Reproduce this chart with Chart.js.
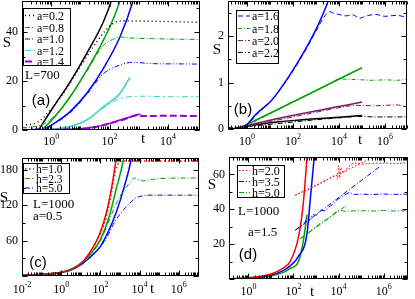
<!DOCTYPE html>
<html>
<head>
<meta charset="utf-8">
<script src="https://cdn.jsdelivr.net/npm/chart.js@4.4.1/dist/chart.umd.min.js"></script>
<style>
  body { margin: 0; background: #fff; }
  canvas { position: absolute; left: 0; top: 0; }
</style>
</head>
<body>
<canvas id="pa" width="415" height="299"></canvas>
<canvas id="pb" width="415" height="299"></canvas>
<canvas id="pc" width="415" height="299"></canvas>
<canvas id="pd" width="415" height="299"></canvas>
<script>
// every series is a list of [log10(t), S] pairs

// panel (a), L=700
const aFit02 = [[-0.43, 0], [0.08, 9.5], [0.65, 19.7], [1.22, 31.3], [1.79, 44.2], [2.07, 53], [2.12, 55]];
const aFit08 = [[-0.32, 0], [0.08, 4.8], [0.65, 13.6], [1.22, 24.5], [1.79, 36.7], [2.36, 53], [2.4, 55]];
const aFit10 = [[-0.26, 0], [0.08, 2.5], [0.65, 7.5], [1.22, 15], [1.79, 25.2], [2.36, 38.1], [2.81, 53], [2.85, 55]];
const aFit12 = [[-0.15, 0], [0.65, 1.4], [1.22, 4.1], [1.79, 9.5], [2.36, 15], [2.7, 21.5]];
const aFit14 = [[-0.15, 0], [1.22, 0.7], [1.79, 2], [2.36, 4.1], [3.04, 6.5]];
const aSim02 = [[-1, 2], [-0.5, 3], [0, 8.5], [0.5, 16.5], [1, 26], [1.5, 35], [1.85, 40.5], [2.1, 43.3], [2.3, 44.5], [2.6, 44.6], [3, 44.5], [4, 44.3], [5.1, 44]];
const aSim08 = [[-1, 1], [-0.5, 1.5], [0, 4.5], [0.65, 13.5], [1.22, 24], [1.79, 34.5], [2.1, 37], [2.4, 38], [2.7, 37.6], [3.5, 37.3], [4.3, 37.1], [5.1, 37]];
const aSim10 = [[-1, 0.3], [-0.3, 0.5], [0.08, 2.5], [0.65, 7], [1.22, 14.5], [1.79, 23], [2.2, 25.8], [2.55, 27.3], [2.85, 27.6], [3.5, 27.1], [4.5, 27], [5.1, 26.9]];
const aSim12 = [[-1, 0.1], [0, 0.4], [0.65, 1.4], [1.22, 4], [1.79, 9], [2.3, 12.6], [2.7, 13.6], [3.2, 13.8], [4, 13.6], [5.1, 13.6]];
const aSim14 = [[-1, 0], [0.5, 0.3], [1.22, 0.7], [1.79, 2], [2.4, 4], [3.04, 6.2], [3.1, 5.7], [4, 5.8], [5.1, 5.7]];
const aLabels = ["a=0.2", "a=0.8", "a=1.0", "a=1.2", "a=1.4"];
const aYTicks = [0, 20, 40];
const aXTicks = [0, 2, 4];

// panel (b)
const bFit16 = [[-0.83, 0], [-0.3, 0.02], [0.06, 0.13], [0.35, 0.3], [1.07, 0.62], [1.8, 1.12], [2.52, 1.7], [3.1, 2.25], [3.55, 2.78], [3.6, 2.85]];
const bFit18 = [[-0.3, 0.03], [0, 0.1], [5, 1.32]];
const bFit20 = [[-0.3, 0.02], [0, 0.07], [5, 0.58]];
const bFit22 = [[-0.3, 0.02], [0, 0.06], [5, 0.29]];
const bSim16 = [[-0.83, 0.03], [-0.3, 0.04], [0, 0.1], [0.5, 0.35], [1.07, 0.62], [1.8, 1.1], [2.52, 1.68], [3.1, 2.2], [3.4, 2.45], [3.6, 2.53], [3.75, 2.5], [4, 2.47], [4.3, 2.44], [4.6, 2.46], [4.9, 2.39], [5.2, 2.44], [5.6, 2.47], [6, 2.43], [6.5, 2.45], [6.96, 2.41]];
const bSim18 = [[-0.83, 0.02], [-0.3, 0.03], [0, 0.08], [1, 0.33], [2, 0.58], [3, 0.83], [3.7, 1], [4, 1.08], [4.5, 1.07], [5, 1.06], [5.5, 1.05], [6, 1.06], [6.5, 1.05], [6.96, 1.07]];
const bSim20 = [[-0.83, 0.01], [0, 0.06], [1, 0.16], [2, 0.26], [3, 0.36], [4, 0.46], [4.5, 0.5], [5, 0.51], [5.5, 0.5], [6, 0.51], [6.5, 0.52], [6.96, 0.47]];
const bSim22 = [[-0.83, 0.01], [0, 0.05], [1, 0.1], [2, 0.15], [3, 0.2], [4, 0.24], [4.5, 0.26], [5, 0.27], [5.5, 0.26], [6, 0.26], [6.5, 0.26], [6.96, 0.26]];
const bLabels = ["a=1.6", "a=1.8", "a=2.0", "a=2.2"];
const bYTicks = [0, 1, 2];
const bXTicks = [0, 2, 4, 6];

// panel (c), L=1000, a=0.5
const cFit10 = [[-2, 1.5], [-1, 2.5], [0, 6.5], [0.5, 11], [1.12, 25], [1.5, 42], [1.97, 72], [2.31, 108], [2.56, 148], [2.81, 200], [2.85, 210]];
const cFit23 = [[-2, 1.5], [-1, 2.5], [0, 6.5], [0.5, 11], [1.12, 24], [1.5, 38], [1.97, 60], [2.47, 103], [2.81, 148], [3.19, 200], [3.23, 210]];
const cFit50 = [[-2, 1.5], [-1, 2.5], [0, 6], [0.5, 10], [1.12, 22], [1.5, 33], [1.97, 49], [2.4, 75], [2.81, 108], [3.24, 154], [3.58, 200], [3.62, 210]];
const cSim10 = [[-2, 2], [-1, 2.5], [0, 6.5], [1.12, 25], [1.97, 70], [2.3, 100], [2.56, 140], [2.75, 175], [2.95, 192], [3.2, 195], [4, 195], [5, 195], [6, 195], [7.03, 195]];
const cSim23 = [[-2, 2], [0, 6.5], [1.12, 24], [1.97, 58], [2.4, 90], [2.7, 115], [3, 135], [3.3, 150], [3.55, 160], [3.75, 166], [3.9, 164], [4.17, 161], [4.5, 163], [5, 165], [6, 166], [7.03, 166]];
const cSim50 = [[-2, 1.5], [0, 6], [1.12, 22], [1.97, 48], [2.4, 70], [2.7, 90], [3, 105], [3.4, 120], [3.8, 132], [4.2, 136], [4.5, 137], [5, 137], [6, 137], [7.03, 137]];
const cLabels = ["h=1.0", "h=2.3", "h=5.0"];
const cYTicks = [60, 120, 180];
const cXTicks = [-2, 0, 2, 4, 6];

// panel (d), L=1000, a=1.5
const dFit20 = [[-0.86, 0], [0, 0.8], [0.5, 1.5], [1.04, 3], [1.5, 6], [1.85, 10], [2.22, 24], [2.44, 44], [2.6, 70], [2.63, 75]];
const dFit35 = [[-0.86, 0], [0, 0.6], [0.5, 1.2], [1.04, 2.3], [1.5, 4.5], [1.85, 7.5], [2.22, 13], [2.6, 26], [2.74, 45], [2.92, 70], [2.95, 75]];
const dFit50 = [[-0.86, 0], [0, 0.5], [0.5, 1], [1.04, 2], [1.5, 3.5], [1.85, 6], [2.22, 10], [2.44, 22], [2.6, 37]];
const dLine20 = [[2.08, 48], [5.56, 70]];
const dLine35 = [[2.08, 28], [5.83, 64.5]];
const dLine50 = [[2.3, 23], [4.37, 42.4]];
const dSim20 = [[2.08, 48], [2.3, 49.5], [2.6, 51], [3, 53.5], [3.5, 57], [3.9, 59.5], [3.95, 57], [4, 65], [4.05, 58], [4.1, 64], [4.2, 61], [4.45, 64.5], [4.7, 66.5], [5, 66], [5.5, 66.3], [6, 66.5], [6.5, 66.2], [7.08, 66.8]];
const dSim35 = [[2.08, 28], [2.3, 30], [2.5, 32], [2.6, 35.5], [2.7, 33.5], [2.85, 37], [3, 36.5], [3.2, 39.5], [3.4, 39], [3.5, 40.5], [3.8, 43.5], [4, 46], [4.3, 48.5], [4.5, 49.5], [4.7, 48.5], [5, 48.7], [5.5, 48.5], [6, 48.7], [6.5, 48.6], [7.08, 48.7]];
const dSim50 = [[2.3, 23.3], [2.5, 25], [2.7, 27], [2.9, 29], [3.1, 31], [3.3, 33], [3.5, 34.5], [3.7, 36.5], [3.9, 38.5], [4.07, 39.5], [4.3, 38.8], [4.5, 39], [5, 39.2], [5.5, 39], [6, 39.3], [6.5, 39], [7.08, 39.2]];
const dLabels = ["h=2.0", "h=3.5", "h=5.0"];
const dYTicks = [20, 40, 60];
const dXTicks = [0, 2, 4, 6];

const SERIF = '"Liberation Serif", "DejaVu Serif", serif';
const SANS = '"Liberation Sans", "DejaVu Sans", sans-serif';

const BLACK = "#000000", GREEN = "#00a000", BLUE = "#0000ff", CYAN = "#30d5c8",
      VIOLET = "#9400d3", MAROON = "#7d1a5e", RED = "#ff0000";

// frame, inward ticks, tick labels, legend box and texts
const decor = {
  id: "decor",
  afterDatasetsDraw(chart, args, o) {
    const { ctx, chartArea: a } = chart;
    const xs = chart.scales.x, ys = chart.scales.y;
    const L = Math.round(a.left) + 0.5, R = Math.round(a.right) - 0.5;
    const T = Math.round(a.top) + 0.5, B = Math.round(a.bottom) - 0.5;
    ctx.save();
    ctx.strokeStyle = "#000";
    ctx.lineWidth = 1;
    ctx.beginPath();
    for (let n = Math.floor(o.xRange[0]); n <= Math.ceil(o.xRange[1]); n++) {
      for (let k = 1; k <= 9; k++) {
        const v = k * Math.pow(10, n);
        if (v < xs.min || v > xs.max) continue;
        const p = Math.round(xs.getPixelForValue(v)) + 0.5;
        const len = (k === 1 && n % 2 === 0) ? 5 : 3;
        ctx.moveTo(p, B); ctx.lineTo(p, B - len);
        ctx.moveTo(p, T); ctx.lineTo(p, T + len);
      }
    }
    for (let i = 0; i * o.yMinor <= ys.max + 1e-9; i++) {
      const p = Math.round(ys.getPixelForValue(i * o.yMinor)) + 0.5;
      const len = i % 2 === 0 ? 5 : 3;
      ctx.moveTo(L, p); ctx.lineTo(L + len, p);
      ctx.moveTo(R, p); ctx.lineTo(R - len, p);
    }
    ctx.stroke();
    ctx.strokeRect(L, T, R - L, B - T);

    ctx.fillStyle = "#000";
    ctx.font = "12px " + SERIF;
    ctx.textAlign = "right";
    ctx.textBaseline = "middle";
    o.yLabels.forEach(v => ctx.fillText(String(v), a.left - 4, ys.getPixelForValue(v)));

    ctx.textAlign = "left";
    ctx.textBaseline = "alphabetic";
    o.xLabels.forEach(n => {
      const p = xs.getPixelForValue(Math.pow(10, n));
      const e = n < 0 ? "-" + (-n) : String(n);
      ctx.font = "12px " + SERIF;
      const w1 = ctx.measureText("10").width;
      ctx.font = "8px " + SERIF;
      const w2 = ctx.measureText(e).width;
      const x0 = p - (w1 + w2) / 2;
      ctx.font = "12px " + SERIF;
      ctx.fillText("10", x0, a.bottom + o.xLabelDy);
      ctx.font = "8px " + SERIF;
      ctx.fillText(e, x0 + w1, a.bottom + o.xLabelDy - 6);
    });

    const lg = o.legend;
    ctx.strokeRect(lg.box[0] + 0.5, lg.box[1] + 0.5, lg.box[2] - lg.box[0], lg.box[3] - lg.box[1]);
    chart.data.datasets.filter(d => d.label).forEach((d, i) => {
      const y = lg.rows[i] + 0.5;
      ctx.save();
      ctx.strokeStyle = d.borderColor;
      ctx.lineWidth = d.borderWidth;
      ctx.setLineDash(d.borderDash || []);
      ctx.beginPath();
      ctx.moveTo(lg.line[0], y);
      ctx.lineTo(lg.line[1], y);
      ctx.stroke();
      ctx.restore();
      ctx.font = lg.size + "px " + SERIF;
      ctx.textBaseline = "middle";
      ctx.textAlign = "left";
      ctx.fillText(d.label, lg.text, y + 1);
    });

    o.texts.forEach(t => {
      ctx.font = t.font;
      ctx.textAlign = t.align || "center";
      ctx.textBaseline = "middle";
      ctx.fillText(t.s, t.x, t.y);
    });
    ctx.restore();
  }
};

function series(pairs, color, width, dash, label) {
  return {
    label: label,
    data: pairs.map(([l, s]) => ({ x: Math.pow(10, l), y: s })),
    borderColor: color,
    borderWidth: width,
    borderDash: dash,
    pointRadius: 0,
    fill: false,
    cubicInterpolationMode: "monotone"
  };
}

function makePanel(id, p) {
  const [left, top, right, bottom] = p.area;
  new Chart(document.getElementById(id), {
    type: "line",
    data: { datasets: p.datasets },
    options: {
      responsive: false,
      animation: false,
      events: [],
      layout: { padding: { left: left, top: top, right: 415 - right, bottom: 299 - bottom } },
      scales: {
        x: { type: "logarithmic", display: false, min: Math.pow(10, p.xRange[0]), max: Math.pow(10, p.xRange[1]) },
        y: { type: "linear", display: false, min: p.yRange[0], max: p.yRange[1] }
      },
      plugins: {
        legend: { display: false },
        tooltip: { enabled: false },
        decor: {
          xRange: p.xRange, yMinor: p.yMinor, yLabels: p.yLabels, xLabels: p.xLabels,
          xLabelDy: p.xLabelDy, legend: p.legend, texts: p.texts
        }
      }
    },
    plugins: [decor]
  });
}

makePanel("pa", {
  area: [22, 1, 200, 130], xRange: [-1, 5.1], yRange: [0, 52.7], yMinor: 10,
  yLabels: aYTicks, xLabels: aXTicks, xLabelDy: 15,
  datasets: [
    series(aSim02, BLACK, 1.5, [1, 3], aLabels[0]),
    series(aSim08, GREEN, 1, [5, 2, 1, 2], aLabels[1]),
    series(aSim10, BLUE, 1, [5, 2, 1, 2, 1, 2], aLabels[2]),
    series(aSim12, CYAN, 1, [6, 3, 2, 3], aLabels[3]),
    series(aSim14, VIOLET, 2, [7, 3], aLabels[4]),
    series(aFit02, BLACK, 1.5, []),
    series(aFit08, GREEN, 1.5, []),
    series(aFit10, BLUE, 1.5, []),
    series(aFit12, CYAN, 1.5, []),
    series(aFit14, VIOLET, 1.5, [])
  ],
  legend: { box: [23, 8, 70, 65], rows: [15, 27, 38.5, 50, 61], line: [25, 35], text: 37, size: 12 },
  texts: [
    { s: "S", x: 7, y: 43, font: "15px " + SERIF },
    { s: "t", x: 143, y: 139, font: "15px " + SERIF },
    { s: "(a)", x: 41, y: 101, font: "15px " + SANS },
    { s: "L=700", x: 25, y: 76, font: "13px " + SERIF, align: "left" }
  ]
});

makePanel("pb", {
  area: [228, 1, 407, 129], xRange: [-0.83, 6.96], yRange: [0, 2.76], yMinor: 0.5,
  yLabels: bYTicks, xLabels: bXTicks, xLabelDy: 16,
  datasets: [
    series(bSim16, BLUE, 1, [5, 3], bLabels[0]),
    series(bSim18, GREEN, 1, [4, 2, 1, 2], bLabels[1]),
    series(bSim20, MAROON, 1, [5, 2, 1, 2], bLabels[2]),
    series(bSim22, BLACK, 1, [5, 2, 1, 2], bLabels[3]),
    series(bFit16, BLUE, 1.5, []),
    series(bFit18, GREEN, 1.5, []),
    series(bFit20, MAROON, 1.5, []),
    series(bFit22, BLACK, 1.5, [])
  ],
  legend: { box: [236, 10, 278, 63], rows: [15.5, 28, 40, 52], line: [238, 250], text: 252, size: 12 },
  texts: [
    { s: "S", x: 217, y: 50, font: "15px " + SERIF },
    { s: "t", x: 360, y: 140, font: "15px " + SERIF },
    { s: "(b)", x: 243, y: 110, font: "15px " + SANS }
  ]
});

makePanel("pc", {
  area: [22, 158, 199, 276], xRange: [-2, 7.03], yRange: [0, 200], yMinor: 30,
  yLabels: cYTicks, xLabels: cXTicks, xLabelDy: 17,
  datasets: [
    series(cSim10, RED, 1.5, [1.5, 2.5], cLabels[0]),
    series(cSim23, GREEN, 1, [5, 2, 1, 2], cLabels[1]),
    series(cSim50, BLUE, 1, [5, 2, 1, 2], cLabels[2]),
    series(cFit10, RED, 1.5, []),
    series(cFit23, GREEN, 1.5, []),
    series(cFit50, BLUE, 1.5, [])
  ],
  legend: { box: [23, 163, 69, 193], rows: [168.5, 178, 187.5], line: [25, 34], text: 36, size: 11.5 },
  texts: [
    { s: "S", x: 4, y: 198, font: "15px " + SERIF },
    { s: "t", x: 152, y: 289, font: "15px " + SERIF },
    { s: "(c)", x: 38, y: 263, font: "15px " + SANS },
    { s: "L=1000", x: 33, y: 205, font: "13px " + SERIF, align: "left" },
    { s: "a=0.5", x: 33, y: 217, font: "13px " + SERIF, align: "left" }
  ]
});

makePanel("pd", {
  area: [229, 157, 408, 279], xRange: [-0.86, 7.08], yRange: [0, 70], yMinor: 10,
  yLabels: dYTicks, xLabels: dXTicks, xLabelDy: 16,
  datasets: [
    series(dSim20, RED, 1, [1.5, 2], dLabels[0]),
    series(dSim35, BLUE, 1, [5, 2, 1, 2], dLabels[1]),
    series(dSim50, GREEN, 1, [5, 2, 1, 2], dLabels[2]),
    series(dLine20, RED, 1, [1.5, 2]),
    series(dLine35, BLUE, 1, [5, 2, 1, 2]),
    series(dLine50, GREEN, 1, [5, 2, 1, 2]),
    series(dFit20, RED, 1.5, []),
    series(dFit35, BLUE, 1.5, []),
    series(dFit50, GREEN, 1.5, [])
  ],
  legend: { box: [237, 165, 284, 197], rows: [170, 181, 192], line: [239, 250], text: 252, size: 12 },
  texts: [
    { s: "S", x: 212, y: 185, font: "15px " + SERIF },
    { s: "t", x: 312, y: 292, font: "15px " + SERIF },
    { s: "(d)", x: 248, y: 255, font: "15px " + SANS },
    { s: "L=1000", x: 238, y: 212, font: "13px " + SERIF, align: "left" },
    { s: "a=1.5", x: 248, y: 233, font: "13px " + SERIF, align: "left" }
  ]
});
</script>
</body>
</html>
